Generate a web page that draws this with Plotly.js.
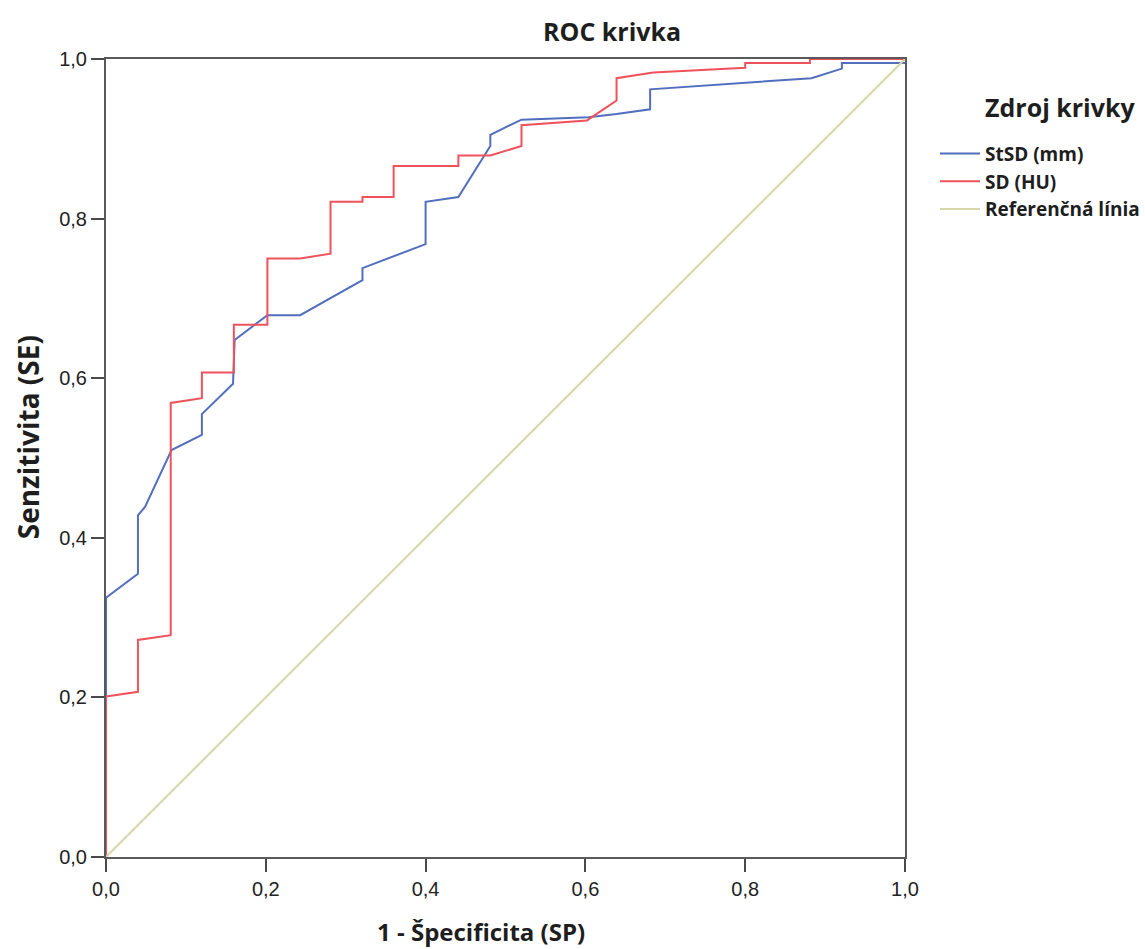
<!DOCTYPE html>
<html>
<head>
<meta charset="utf-8">
<script src="https://cdn.plot.ly/plotly-3.0.1.min.js"></script>
<style>html,body{margin:0;padding:0;background:#fff;}#chart{width:1145px;height:949px;}</style>
</head>
<body>
<div id="chart"></div>
<script>
// StSD (mm) ROC curve
const stsdX = [0, 0, 0.040, 0.040, 0.049, 0.082, 0.120, 0.120, 0.159, 0.161, 0.202, 0.243, 0.321, 0.321, 0.400, 0.400, 0.441, 0.481, 0.481, 0.520, 0.604, 0.639, 0.681, 0.681, 0.883, 0.921, 0.921, 1.0];
const stsdY = [0, 0.325, 0.355, 0.428, 0.439, 0.510, 0.529, 0.555, 0.593, 0.648, 0.679, 0.679, 0.723, 0.738, 0.768, 0.821, 0.827, 0.891, 0.905, 0.924, 0.927, 0.931, 0.937, 0.962, 0.976, 0.988, 0.995, 0.995];
// SD (HU) ROC curve
const sdX = [0, 0, 0.040, 0.040, 0.081, 0.081, 0.120, 0.120, 0.160, 0.160, 0.202, 0.202, 0.243, 0.281, 0.281, 0.321, 0.321, 0.360, 0.360, 0.441, 0.441, 0.481, 0.520, 0.520, 0.602, 0.639, 0.639, 0.685, 0.800, 0.800, 0.881, 0.881, 1.0];
const sdY = [0, 0.201, 0.207, 0.272, 0.278, 0.569, 0.575, 0.607, 0.607, 0.667, 0.667, 0.750, 0.750, 0.756, 0.821, 0.821, 0.827, 0.827, 0.866, 0.866, 0.879, 0.879, 0.891, 0.917, 0.923, 0.948, 0.976, 0.983, 0.989, 0.995, 0.995, 1.0, 1.0];
// Reference line
const refX = [0, 1];
const refY = [0, 1];
const tickVals = [0, 0.2, 0.4, 0.6, 0.8, 1.0];
const tickLabels = ["0,0", "0,2", "0,4", "0,6", "0,8", "1,0"];
const seriesNames = ["StSD (mm)", "SD (HU)", "Referenčná línia"];

const condFont = "'Open Sans', 'Liberation Sans', sans-serif";
function cf(size) { return {family: condFont, size: size, color: '#1e1e1e', weight: 'bold'}; }

const traces = [
  {x: stsdX, y: stsdY, type: 'scatter', mode: 'lines', name: seriesNames[0],
   line: {color: 'rgb(82,110,190)', width: 2}},
  {x: sdX, y: sdY, type: 'scatter', mode: 'lines', name: seriesNames[1],
   line: {color: 'rgb(240,82,92)', width: 2}},
  {x: refX, y: refY, type: 'scatter', mode: 'lines', name: seriesNames[2],
   line: {color: 'rgb(214,214,168)', width: 2}}
];

const axisCommon = {
  range: [0, 1], tickvals: tickVals, ticktext: tickLabels,
  showgrid: false, zeroline: false, showline: true, mirror: true,
  linecolor: '#5a5a5a', linewidth: 2, ticks: 'outside', ticklen: 13,
  tickwidth: 2, tickcolor: '#4a4a4a', automargin: false,
  tickfont: {family: "'Liberation Sans', Arial, sans-serif", size: 20, color: '#222'}
};

const layout = {
  width: 1145, height: 949,
  margin: {l: 106, r: 240, t: 59, b: 92},
  paper_bgcolor: '#fff', plot_bgcolor: '#fff',
  showlegend: true,
  legend: {
    xref: 'container', yref: 'container',
    x: 0.8166, xanchor: 'left', y: 0.858, yanchor: 'top',
    font: cf(19), bgcolor: 'rgba(0,0,0,0)', itemwidth: 40, tracegroupgap: 0,
    traceorder: 'normal'
  },
  xaxis: Object.assign({}, axisCommon),
  yaxis: Object.assign({}, axisCommon),
  annotations: [
    {text: 'ROC krivka', xref: 'paper', yref: 'paper', x: 0.633, y: 1.0,
     yshift: 28, xanchor: 'center', yanchor: 'middle', showarrow: false, font: cf(25)},
    {text: 'Zdroj krivky', xref: 'paper', yref: 'paper', x: 1.0975, y: 0.94,
     xanchor: 'left', yanchor: 'middle', showarrow: false, font: cf(25)},
    {text: '1 - Špecificita (SP)', xref: 'paper', yref: 'paper', x: 0.469, y: 0,
     yshift: -74, xanchor: 'center', yanchor: 'middle', showarrow: false, font: cf(24)},
    {text: 'Senzitivita (SE)', xref: 'paper', yref: 'paper', x: 0, y: 0.526,
     xshift: -78, xanchor: 'center', yanchor: 'middle', textangle: -90, showarrow: false, font: cf(28)}
  ]
};

Plotly.newPlot('chart', traces, layout, {displayModeBar: false});
</script>
</body>
</html>
